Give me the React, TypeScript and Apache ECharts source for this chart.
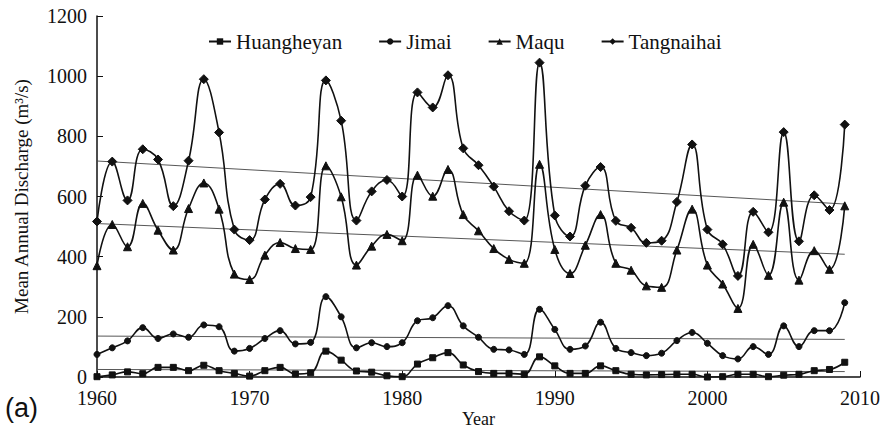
import React, { useEffect, useRef } from "react";
import * as echarts from "echarts";

const years = [
  1960, 1961, 1962, 1963, 1964, 1965, 1966, 1967, 1968, 1969,
  1970, 1971, 1972, 1973, 1974, 1975, 1976, 1977, 1978, 1979,
  1980, 1981, 1982, 1983, 1984, 1985, 1986, 1987, 1988, 1989,
  1990, 1991, 1992, 1993, 1994, 1995, 1996, 1997, 1998, 1999,
  2000, 2001, 2002, 2003, 2004, 2005, 2006, 2007, 2008, 2009,
];

const huangheyan = [
  1, 7, 17, 11, 32, 32, 21, 39, 21, 12,
  3, 21, 32, 10, 14, 86, 56, 20, 16, 4,
  1, 43, 64, 81, 40, 18, 12, 12, 9, 67,
  37, 12, 12, 37, 21, 9, 7, 8, 9, 9,
  0, 1, 9, 9, 1, 6, 9, 21, 25, 49,
];

const jimai = [
  75, 97, 120, 164, 128, 143, 132, 173, 167, 86,
  95, 128, 154, 110, 115, 267, 200, 97, 114, 101,
  114, 187, 197, 237, 170, 132, 92, 90, 75, 225,
  158, 92, 103, 182, 95, 81, 71, 79, 121, 148,
  112, 71, 60, 101, 75, 170, 101, 154, 154, 247,
];

const maqu = [
  370, 507, 433, 577, 488, 422, 560, 645, 558, 342,
  324, 405, 447, 427, 424, 702, 599, 372, 435, 474,
  453, 671, 601, 690, 540, 486, 427, 391, 378, 707,
  424, 344, 438, 540, 378, 355, 303, 298, 422, 558,
  372, 309, 228, 441, 338, 581, 322, 420, 358, 569,
];

const tangnaihai = [
  517, 716, 587, 757, 723, 568, 719, 990, 813, 490,
  455, 590, 642, 570, 598, 986, 852, 520, 617, 655,
  600, 946, 896, 1003, 760, 704, 633, 551, 520, 1045,
  537, 467, 636, 698, 519, 496, 446, 453, 582, 773,
  490, 441, 336, 549, 481, 814, 451, 604, 555, 839,
];

// Linear trend line end points (start year, end year)
const trendYears = [1960, 2009];
const trendHuangheyan = [25, 18];
const trendJimai = [136, 125];
const trendMaqu = [510, 408];
const trendTangnaihai = [718, 575];

const seriesNames = ["Huangheyan", "Jimai", "Maqu", "Tangnaihai"];
const xTicks = [1960, 1970, 1980, 1990, 2000, 2010];
const yTicks = [0, 200, 400, 600, 800, 1000, 1200];

const SERIF = "'Liberation Serif', 'Times New Roman', serif";

export default function App() {
  const ref = useRef<HTMLDivElement>(null);

  useEffect(() => {
    if (!ref.current) return;
    const chart = echarts.init(ref.current, undefined, { renderer: "svg" });

    const pairs = (vals: number[]) => years.map((y, i) => [y, vals[i]]);
    const trend = (vals: number[]) => trendYears.map((y, i) => [y, vals[i]]);

    const main = (name: string, vals: number[], symbol: string, size: number) => ({
      name,
      type: "line",
      data: pairs(vals),
      smooth: 0.45,
      symbol,
      symbolSize: size,
      showSymbol: true,
      lineStyle: { color: "#111", width: 1.6 },
      itemStyle: { color: "#111", borderColor: "#111" },
      z: 3,
    });
    const tl = (vals: number[]) => ({
      type: "line",
      data: trend(vals),
      symbol: "none",
      lineStyle: { color: "#444", width: 0.9 },
      silent: true,
      z: 2,
    });

    chart.setOption({
      animation: false,
      backgroundColor: "#fff",
      grid: { left: 97, right: 29, top: 16, bottom: 53, outerBoundsMode: "none", containLabel: false },
      legend: {
        data: seriesNames,
        top: 26,
        left: 203,
        itemWidth: 22,
        itemHeight: 8,
        itemGap: 36,
        textStyle: { fontFamily: SERIF, fontSize: 21, color: "#111" },
      },
      xAxis: {
        type: "value",
        min: 1960,
        max: 2010,
        interval: 10,
        name: "Year",
        nameLocation: "middle",
        nameGap: 33,
        nameMoveOverlap: false,
        nameTextStyle: { fontFamily: SERIF, fontSize: 18, color: "#111" },
        axisLine: { show: true, lineStyle: { color: "#111", width: 1.5 } },
        axisTick: { show: true, inside: true, length: 6, lineStyle: { color: "#111" } },
        axisLabel: {
          fontFamily: SERIF,
          fontSize: 20,
          color: "#111",
          margin: 11,
          formatter: (v: number) => (xTicks.includes(v) ? String(v) : ""),
        },
        splitLine: { show: false },
      },
      yAxis: {
        type: "value",
        min: 0,
        max: 1200,
        interval: 200,
        name: "Mean Annual Discharge (m\u00b3/s)",
        nameLocation: "middle",
        nameGap: 66,
        nameMoveOverlap: false,
        nameTextStyle: { fontFamily: SERIF, fontSize: 19, color: "#111" },
        axisLine: { show: true, lineStyle: { color: "#111", width: 1.5 } },
        axisTick: { show: true, inside: true, length: 6, lineStyle: { color: "#111" } },
        axisLabel: {
          fontFamily: SERIF,
          fontSize: 20,
          color: "#111",
          margin: 10,
          formatter: (v: number) => (yTicks.includes(v) ? String(v) : ""),
        },
        splitLine: { show: false },
      },
      graphic: [
        {
          type: "text",
          left: 5,
          top: 394,
          style: {
            text: "(a)",
            fontFamily: "'Liberation Sans', Arial, sans-serif",
            fontSize: 27,
            fill: "#111",
          },
        },
      ],
      series: [
        tl(trendHuangheyan),
        tl(trendJimai),
        tl(trendMaqu),
        tl(trendTangnaihai),
        main("Huangheyan", huangheyan, "rect", 6),
        main("Jimai", jimai, "circle", 6),
        main("Maqu", maqu, "triangle", 8),
        main("Tangnaihai", tangnaihai, "diamond", 9),
      ],
    });

    return () => chart.dispose();
  }, []);

  return (
    <div
      ref={ref}
      style={{ position: "fixed", left: 0, top: 0, width: 889, height: 430, background: "#fff" }}
    />
  );
}
